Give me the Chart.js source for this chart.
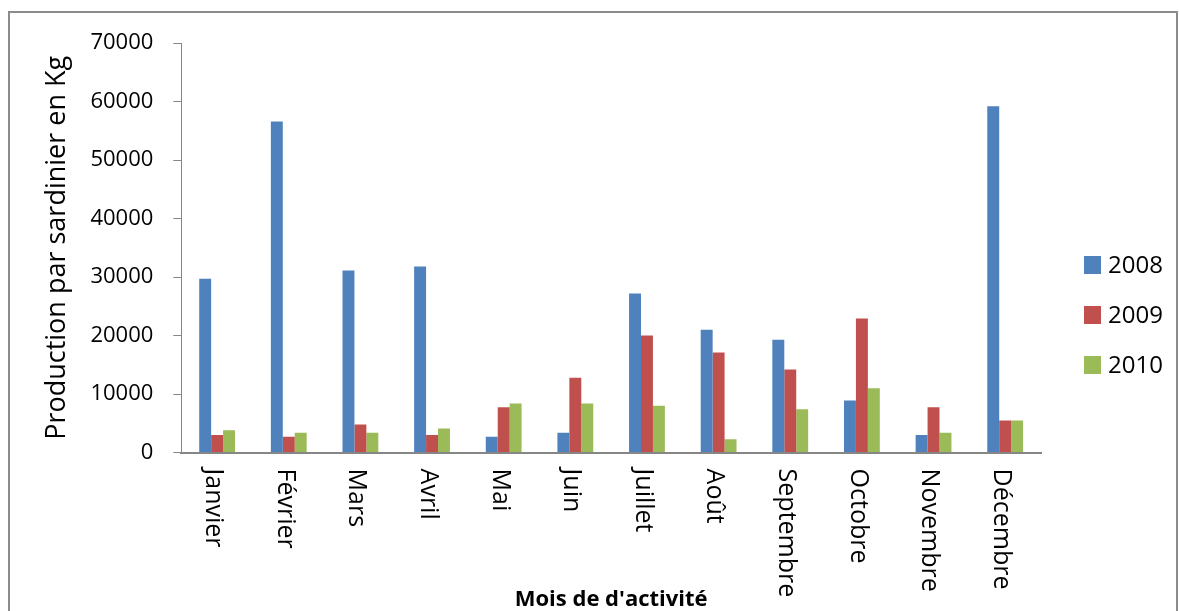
<!DOCTYPE html>
<html>
<head>
<meta charset="utf-8">
<script src="https://cdn.jsdelivr.net/npm/chart.js@4.4.1/dist/chart.umd.min.js"></script>
<style>
  html, body { margin: 0; padding: 0; background: #fff; }
  #frame { position: absolute; left: 8px; top: 11px; width: 1166px; height: 640px; border: 2px solid #8c8c8c; }
  #wrap { position: absolute; left: 0; top: 0; width: 1179px; height: 611px; }
</style>
</head>
<body>
<div id="frame"></div>
<div id="wrap"><canvas id="chart"></canvas></div>
<script>
const months = ['Janvier', 'Février', 'Mars', 'Avril', 'Mai', 'Juin', 'Juillet', 'Août', 'Septembre', 'Octobre', 'Novembre', 'Décembre'];
const years = ['2008', '2009', '2010'];
const prod2008 = [29700, 56600, 31100, 31800, 2700, 3400, 27200, 21000, 19300, 8900, 3000, 59200];
const prod2009 = [3000, 2700, 4800, 3000, 7750, 12800, 20000, 17100, 14200, 22900, 7750, 5500];
const prod2010 = [3800, 3400, 3400, 4100, 8400, 8400, 8000, 2300, 7400, 11000, 3400, 5500];
const colors = ['#4F81BD', '#C0504D', '#9BBB59'];

const FONT = "'Open Sans', sans-serif";

// month labels read top to bottom, plus legend drawn at right
const extras = {
  id: 'extras',
  afterDraw(chart) {
    const ctx = chart.ctx;
    const xs = chart.scales.x;
    const area = chart.chartArea;
    ctx.save();
    ctx.fillStyle = '#000';
    ctx.font = '25px ' + FONT;
    ctx.textAlign = 'left';
    ctx.textBaseline = 'middle';
    months.forEach((m, i) => {
      const x = xs.getPixelForTick(i);
      ctx.save();
      ctx.translate(x - 4, area.bottom + 16);
      ctx.rotate(Math.PI / 2);
      ctx.fillText(m, 0, 0);
      ctx.restore();
    });
    // legend
    ctx.font = '24px ' + FONT;
    chart.data.datasets.forEach((ds, i) => {
      const y = 265 + i * 50;
      ctx.fillStyle = ds.backgroundColor;
      ctx.fillRect(1084, y - 9, 17, 18);
      ctx.fillStyle = '#000';
      ctx.fillText(ds.label, 1108, y + 1);
    });
    ctx.restore();
  }
};

new Chart(document.getElementById('chart'), {
  type: 'bar',
  data: {
    labels: months,
    datasets: [
      { label: years[0], data: prod2008, backgroundColor: colors[0] },
      { label: years[1], data: prod2009, backgroundColor: colors[1] },
      { label: years[2], data: prod2010, backgroundColor: colors[2] },
    ]
  },
  options: {
    responsive: true,
    maintainAspectRatio: false,
    animation: false,
    layout: { padding: { left: 30, right: 138, top: 43, bottom: 0 } },
    datasets: { bar: { categoryPercentage: 0.5, barPercentage: 1.0 } },
    plugins: {
      legend: { display: false },
      tooltip: { enabled: false },
    },
    scales: {
      x: {
        grid: { display: false, drawTicks: false, tickLength: 0 },
        border: { display: true, color: '#868686', width: 2 },
        ticks: { display: false },
        title: {
          display: true,
          text: "Mois de d'activité",
          color: '#000',
          font: { family: FONT, size: 22, weight: 'bold' },
          padding: { top: 134, bottom: -2 }
        }
      },
      y: {
        min: 0,
        max: 70000,
        grid: { drawOnChartArea: false, drawTicks: true, tickLength: 8, color: '#868686' },
        border: { display: true, color: '#868686', width: 1 },
        ticks: {
          stepSize: 10000,
          padding: 20,
          color: '#000',
          font: { family: FONT, size: 22 },
          callback: v => String(v)
        },
        title: {
          display: true,
          text: 'Production par sardinier en Kg',
          color: '#000',
          font: { family: FONT, size: 27 },
          padding: { top: 11, bottom: -3 }
        }
      }
    }
  },
  plugins: [extras]
});
</script>
</body>
</html>
